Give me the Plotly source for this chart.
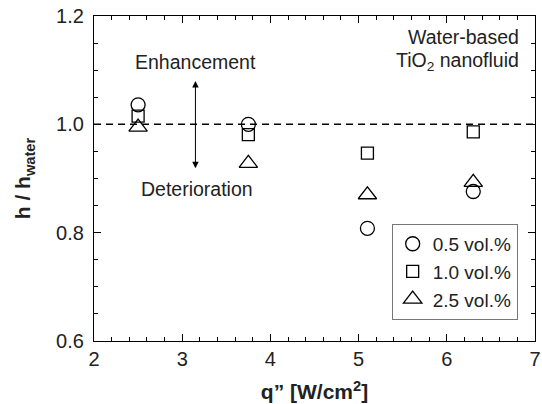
import plotly.graph_objects as go

# Heat flux values [W/cm2] and normalised heat transfer coefficient h / h_water
q_flux = [2.5, 3.75, 5.1, 6.3]
h_ratio_05 = [1.036, 1.000, 0.808, 0.876]
h_ratio_10 = [1.015, 0.981, 0.947, 0.986]
h_ratio_25 = [0.995, 0.928, 0.870, 0.893]
series_names = ["0.5 vol.%", "1.0 vol.%", "2.5 vol.%"]

FONT = "Liberation Sans, Arial, sans-serif"
TXT = "#222"

fig = go.Figure()
for name, vals, sym, size in [
    (series_names[0], h_ratio_05, "circle-open", 14),
    (series_names[1], h_ratio_10, "square-open", 12),
    (series_names[2], h_ratio_25, "triangle-up-open", 16),
]:
    fig.add_trace(go.Scatter(
        x=q_flux, y=vals, mode="markers", name=name,
        marker=dict(symbol=sym, size=size, color="black", line=dict(width=1.3, color="black")),
    ))

# Reference line h = h_water
fig.add_shape(type="line", xref="paper", x0=0, x1=1, yref="y", y0=1.0, y1=1.0,
              line=dict(color="black", width=1.5, dash="7px,5px"))

# Enhancement / deterioration arrow
fig.add_annotation(x=3.15, y=1.08, ax=3.15, ay=0.916, xref="x", yref="y", axref="x", ayref="y",
                   text="", showarrow=True, arrowhead=2, startarrowhead=2, arrowside="end+start",
                   arrowsize=1.3, startarrowsize=1.3, arrowwidth=1, arrowcolor="black")
fig.add_annotation(x=3.15, y=1.116, xref="x", yref="y", text="Enhancement", showarrow=False,
                   font=dict(family=FONT, size=19.5, color=TXT))
fig.add_annotation(x=3.17, y=0.88, xref="x", yref="y", text="Deterioration", showarrow=False,
                   font=dict(family=FONT, size=19.5, color=TXT))
fig.add_annotation(x=0.968, y=1.161, xref="paper", yref="y", xanchor="right", text="Water-based",
                   showarrow=False, font=dict(family=FONT, size=19.5, color=TXT))
fig.add_annotation(x=0.968, y=1.116, xref="paper", yref="y", xanchor="right", text="TiO<sub>2</sub> nanofluid",
                   showarrow=False, font=dict(family=FONT, size=19.5, color=TXT))

axis_common = dict(
    showgrid=False, zeroline=False, showline=True, linecolor="black", linewidth=1.3,
    mirror="allticks", ticks="inside", ticklen=7, tickwidth=1, tickcolor="black",
    tickfont=dict(family=FONT, size=20, color=TXT), automargin=False,
)

fig.update_xaxes(
    range=[2, 7], tick0=2, dtick=1, **axis_common,
    minor=dict(dtick=0.2, ticks="inside", ticklen=4, tickcolor="black"),
    title=dict(text="<b>q\u201d [W/cm<sup>2</sup>]</b>", font=dict(family=FONT, size=21, color=TXT), standoff=15),
)
fig.update_yaxes(
    range=[0.6, 1.2], tick0=0.6, dtick=0.2, tickformat=".1f", **axis_common,
    minor=dict(dtick=0.05, ticks="inside", ticklen=4, tickcolor="black"),
    ticklabelstandoff=5,
    title=dict(text="<b>h / h<sub>water</sub></b>", font=dict(family=FONT, size=21, color=TXT), standoff=19),
)

fig.update_layout(
    width=542, height=404,
    margin=dict(l=94, r=7, t=16, b=63, autoexpand=False),
    paper_bgcolor="white", plot_bgcolor="white",
    showlegend=True,
    legend=dict(x=0.675, y=0.065, xanchor="left", yanchor="bottom",
                bgcolor="white", bordercolor="#777", borderwidth=1,
                font=dict(family=FONT, size=19, color=TXT), itemwidth=30),
)

fig.write_html("out.html")
